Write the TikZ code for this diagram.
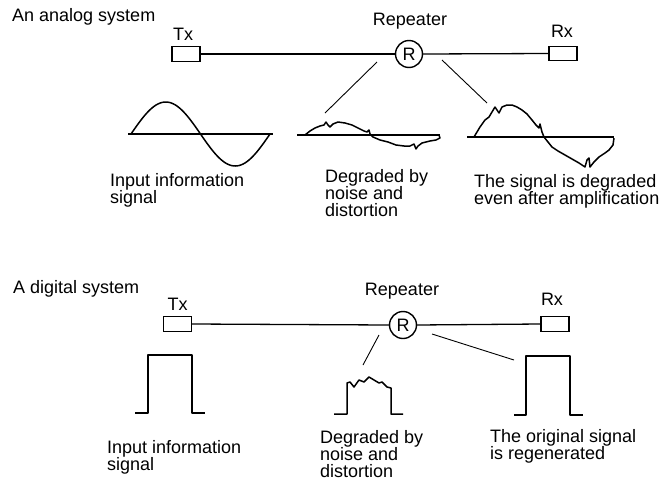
\documentclass[tikz,border=0pt]{standalone}
\usepackage{fontspec}
\setmainfont{Liberation Sans}
\usepackage{tikz}
\usetikzlibrary{calc}

\tikzset{
  lbl/.style={inner sep=0pt, font=\fontsize{18}{17}\selectfont, align=left},
  endbox/.style={draw, line width=1.4pt, minimum width=28pt, minimum height=14.5pt, inner sep=0pt},
  repcirc/.style={draw, circle, line width=1.4pt, minimum size=27pt, inner sep=0pt, font=\fontsize{18}{17}\selectfont},
  link/.style={line width=1.3pt},
  pointer/.style={line width=0.9pt},
  wave/.style={line width=1.5pt, line join=round},
  axisline/.style={line width=1.6pt}
}

\begin{document}
\begin{tikzpicture}[x=1pt, y=-1pt]
      \useasboundingbox (0,0) rectangle (665,480);

      % 1. 類比系統：標題、Tx、Rx 與中繼器
      \node[lbl, anchor=base west] (atitle) at (12,21) {An analog system};
      \node[endbox] (atx) at (186,54) {};
      \node[endbox] (arx) at (563,53.5) {};
      \node[repcirc] (arep) at (409,54) {R};
      \node[lbl, anchor=base] (atxl) at (183,40) {Tx};
      \node[lbl, anchor=base] (arxl) at (562,37) {Rx};
      \node[lbl, anchor=base] (arepl) at (410,25) {Repeater};
      \draw[link] (atx.east) -- (arep.west);
      \draw[link] (arep.east) -- (arx.west);

      % 2. 指向兩個波形的斜線
      \coordinate (ap1) at (377,62);
      \coordinate (aq1) at (325,113);
      \coordinate (ap2) at (442,60);
      \coordinate (aq2) at (487,103);
      \draw[pointer] (ap1) -- (aq1);
      \draw[pointer] (ap2) -- (aq2);

      % 3. 輸入的正弦波
      \draw[axisline] (128,134) -- (273,134);
      \draw[wave] plot[domain=0:360, samples=73] ({131+\x/360*139},{134-32*sin(\x)});

      % 4. 受雜訊與失真影響的波形
      \draw[axisline] (297,135) -- (440,135);
      \draw[wave] plot coordinates {(305,135) (310,131) (315,128) (320,126) (324,125)
        (326,122) (328,125) (330,127) (333,124) (338,122) (345,123) (352,125)
        (358,128) (364,131) (367,132) (369,130) (370,134) (373,137) (380,140)
        (388,142) (396,145) (404,146) (410,146) (414,144) (416,149) (418,146)
        (422,143) (430,141) (436,140) (440,138) (439,135)};

      % 5. 放大後仍失真的波形
      \draw[axisline] (467,137) -- (614,137);
      \draw[wave] plot coordinates {(474,137) (480,127) (485,120) (489,117) (495,107)
        (499,113) (502,107) (507,105) (512,105) (517,107) (522,110) (527,114)
        (532,120) (536,125) (539,128) (540,124) (542,132) (544,137) (548,142)
        (552,147) (558,151) (565,155) (572,159) (579,163) (585,167) (587,160)
        (589,158) (590,167) (594,162) (599,157) (605,153) (609,150) (613,145) (614,138)};

      % 6. 類比系統的說明文字（base = 最後一行的基線）
      \node[lbl, anchor=base west] (at1) at (110,203) {Input information\\signal};
      \node[lbl, anchor=base west] (at2) at (325,216) {Degraded by\\noise and\\distortion};
      \node[lbl, anchor=base west] (at3) at (474,204) {The signal is degraded\\even after amplification};

      % 7. 數位系統：標題、Tx、Rx 與中繼器
      \node[lbl, anchor=base west] (dtitle) at (13,293) {A digital system};
      \node[endbox] (dtx) at (177.5,324) {};
      \node[endbox] (drx) at (555,324) {};
      \node[repcirc] (drep) at (403,325) {R};
      \node[lbl, anchor=base] (dtxl) at (177.5,310) {Tx};
      \node[lbl, anchor=base] (drxl) at (552,305) {Rx};
      \node[lbl, anchor=base] (drepl) at (402,295) {Repeater};
      \draw[link] (dtx.east) -- (drep.west);
      \draw[link] (drep.east) -- (drx.west);

      % 8. 指向兩個脈波的斜線
      \coordinate (dp1) at (379,335);
      \coordinate (dq1) at (363,365);
      \coordinate (dp2) at (432,334);
      \coordinate (dq2) at (514,360);
      \draw[pointer] (dp1) -- (dq1);
      \draw[pointer] (dp2) -- (dq2);

      % 9. 三個脈波
      \draw[wave] (135,413) -- (148,413) -- (148,355) -- (192,355) -- (192,413) -- (205,413);
      \draw[wave] plot coordinates {(334,414) (347,414) (347,383) (350,382) (354,387)
        (359,380) (364,382) (369,377) (374,380) (379,383) (382,382) (387,387)
        (391,388) (391,414) (403,414)};
      \draw[wave] (514,415) -- (526,415) -- (526,356) -- (570,356) -- (570,415) -- (583,415);

      % 10. 數位系統的說明文字
      \node[lbl, anchor=base west] (dt1) at (107,470) {Input information\\signal};
      \node[lbl, anchor=base west] (dt2) at (320,477) {Degraded by\\noise and\\distortion};
      \node[lbl, anchor=base west] (dt3) at (490,459) {The original signal\\is regenerated};
    \end{tikzpicture}
\end{document}
